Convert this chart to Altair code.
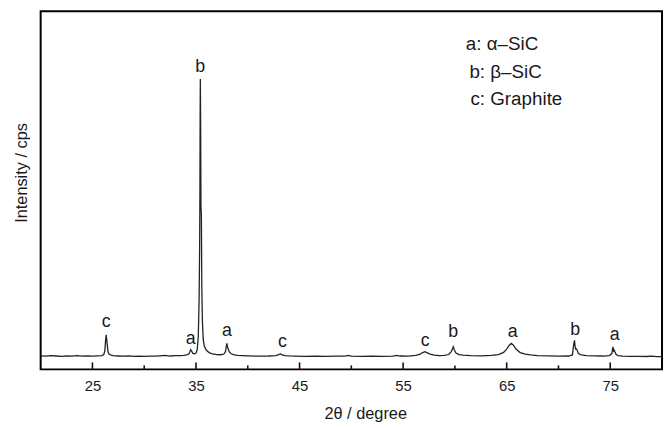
import altair as alt
import pandas as pd

# ---- data (2θ in degrees, intensity in arbitrary cps) ----
two_theta = [
    20.0, 20.5, 21.0, 21.5, 22.0, 22.5, 23.0, 23.5, 24.0, 24.5, 25.0, 25.5, 25.9,
    26.1, 26.2, 26.27, 26.33, 26.4, 26.5, 26.6, 26.8, 27.0, 27.5, 28.0, 28.5, 29.0,
    29.5, 30.0, 30.5, 31.0, 31.5, 32.0, 32.5, 33.0, 33.5, 33.8, 34.1, 34.3, 34.4,
    34.48, 34.58, 34.7, 34.85, 35.0, 35.12, 35.22, 35.3, 35.35, 35.38, 35.40, 35.42,
    35.45, 35.48, 35.52, 35.56, 35.62, 35.7, 35.8, 36.0, 36.3, 36.6, 37.0, 37.4,
    37.7, 37.85, 37.93, 37.98, 38.05, 38.2, 38.4, 38.7, 39.0, 39.5, 40.0, 41.0,
    42.0, 42.7, 43.0, 43.15, 43.3, 43.6, 44.0, 44.5, 45.5, 46.5, 47.5, 48.5, 49.4,
    49.7, 50.0, 51.0, 52.0, 53.0, 54.0, 54.4, 54.7, 55.5, 56.2, 56.6, 56.9, 57.1,
    57.3, 57.6, 58.0, 58.5, 59.0, 59.4, 59.65, 59.78, 59.84, 59.95, 60.1, 60.4,
    60.8, 61.5, 62.5, 63.5, 64.2, 64.7, 65.0, 65.25, 65.45, 65.65, 65.9, 66.3, 66.8,
    67.3, 68.0, 69.0, 70.0, 71.0, 71.35, 71.48, 71.55, 71.6, 71.66, 71.72, 71.8,
    71.92, 72.2, 72.7, 73.5, 74.3, 74.9, 75.15, 75.22, 75.27, 75.33, 75.4, 75.46,
    75.55, 75.75, 76.2, 77.0, 77.8, 78.5, 79.0, 79.5, 80.0,
]
intensity = [
    137, 133, 138, 135, 131, 136, 134, 138, 133, 136, 134, 137, 140,
    150, 190, 290, 350, 280, 180, 155, 143, 138, 135, 133, 136, 132,
    134, 131, 134, 133, 137, 141, 135, 138, 140, 142, 146, 155, 172,
    200, 185, 162, 158, 166, 200, 330, 700, 1200, 1800, 2550, 2935,
    2450, 1650, 1550, 850, 480, 300, 235, 192, 167, 156, 150, 148,
    155, 180, 235, 262, 225, 178, 158, 146, 141, 138, 136, 134,
    135, 139, 150, 158, 146, 139, 136, 134, 132, 134, 131, 133, 134,
    142, 133, 131, 133, 132, 134, 141, 135, 134, 141, 152, 170, 178,
    170, 155, 145, 140, 141, 150, 180, 210, 228, 195, 165, 150,
    144, 138, 137, 141, 150, 172, 205, 245, 262, 245, 205, 170, 153,
    146, 140, 137, 134, 135, 146, 260, 293, 235, 205, 208, 196,
    160, 146, 139, 136, 135, 140, 160, 205, 228, 185, 192, 175,
    152, 140, 134, 132, 131, 130, 133, 128, 129,
]

peak_pos = [26.33, 34.48, 35.40, 37.98, 43.36, 57.14, 59.84, 65.57, 71.62, 75.44]
peak_tag = ["c", "a", "b", "a", "c", "c", "b", "a", "b", "a"]
peak_tag_y = [430, 260, 3010, 340, 230, 240, 330, 330, 350, 300]

legend_text = ["a: α–SiC", "b: β–SiC", "c: Graphite"]
legend_x = [61.05, 61.4, 61.5]
legend_y = [3230, 2940, 2670]

major_ticks = [25, 35, 45, 55, 65, 75]
minor_ticks = [30, 40, 50, 60, 70]

FONT = "Liberation Sans"
INK = "#1a1a1a"
PLOT_H = 362

xscale = alt.Scale(domain=[20, 80], nice=False, zero=False)
yscale = alt.Scale(domain=[0, 3620], nice=False, zero=False)

x_axis = alt.Axis(
    values=major_ticks,
    ticks=False,
    domain=False,
    grid=False,
    labelFont=FONT,
    labelFontSize=15,
    labelColor=INK,
    labelPadding=9,
    labelFlush=False,
    title="2θ / degree",
    titleFont=FONT,
    titleFontSize=16.5,
    titleFontWeight="normal",
    titleColor=INK,
    titleX=328,
    titleY=50,
    titleAlign="center",
    titleBaseline="alphabetic",
)
y_axis = alt.Axis(
    labels=False,
    ticks=False,
    domain=False,
    grid=False,
    title="Intensity / cps",
    titleFont=FONT,
    titleFontSize=16.5,
    titleFontWeight="normal",
    titleColor=INK,
    titleAngle=270,
    titleX=-19,
    titleY=163,
    titleAlign="center",
    titleBaseline="middle",
)


def X():
    return alt.X("t:Q", scale=xscale, axis=x_axis, title="2θ / degree")


def Y():
    return alt.Y("v:Q", scale=yscale, axis=y_axis, title="Intensity / cps")


pattern = pd.DataFrame({"t": two_theta, "v": intensity})
tags = pd.DataFrame({"t": peak_pos, "v": peak_tag_y, "s": peak_tag})
legend = pd.DataFrame({"t": legend_x, "v": legend_y, "s": legend_text})
majors = pd.DataFrame({"t": major_ticks})
minors = pd.DataFrame({"t": minor_ticks})

line = alt.Chart(pattern).mark_line(color="#222222", strokeWidth=1.3).encode(x=X(), y=Y())

major_rules = alt.Chart(majors).mark_rule(color="#111111", strokeWidth=1.6).encode(
    x=X(), y=alt.value(PLOT_H - 7), y2=alt.value(PLOT_H)
)
minor_rules = alt.Chart(minors).mark_rule(color="#111111", strokeWidth=1.6).encode(
    x=X(), y=alt.value(PLOT_H - 4), y2=alt.value(PLOT_H)
)

tag_text = alt.Chart(tags).mark_text(
    font=FONT, fontSize=18, color=INK, align="center", baseline="alphabetic"
).encode(x=X(), y=Y(), text="s:N")

legend_marks = alt.Chart(legend).mark_text(
    font=FONT, fontSize=19, color=INK, align="left", baseline="alphabetic"
).encode(x=X(), y=Y(), text="s:N")

chart = (
    alt.layer(line, major_rules, minor_rules, tag_text, legend_marks)
    .properties(
        width=628,
        height=PLOT_H,
        autosize=alt.AutoSizeParams(type="none"),
        padding={"left": 33, "top": 1, "right": 2, "bottom": 55},
        background="white",
    )
    .configure_view(stroke="black", strokeWidth=2)
)

chart.save("out.html", embed_options={"renderer": "svg", "actions": False})
